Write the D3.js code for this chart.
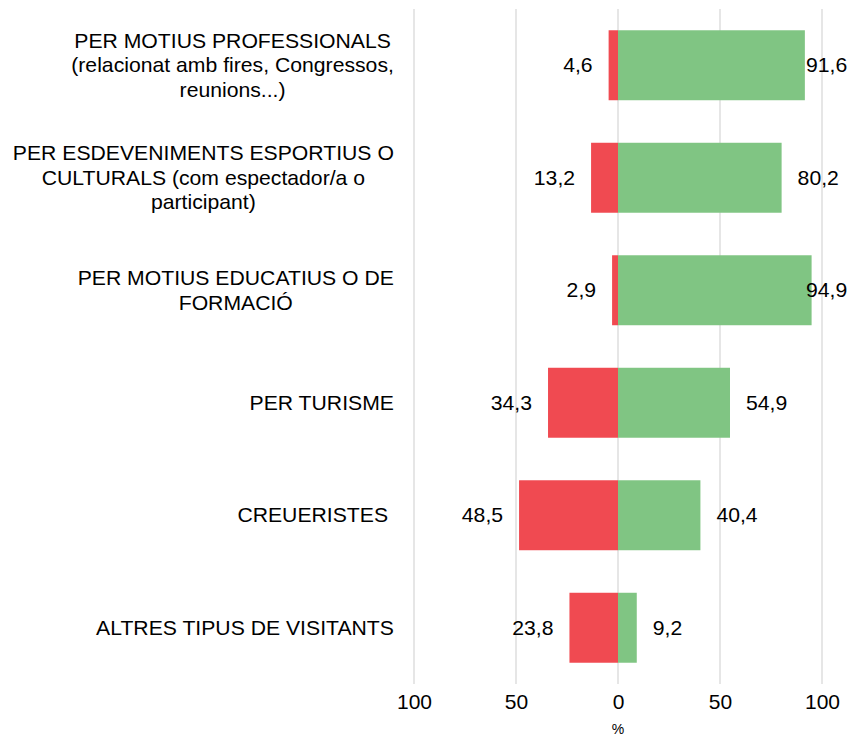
<!DOCTYPE html>
<html>
<head>
<meta charset="utf-8">
<script src="https://cdn.jsdelivr.net/npm/d3@7"></script>
<style>
  body { margin: 0; background: #fff; }
  svg text { font-family: "Liberation Sans", Arial, sans-serif; fill: #000; white-space: pre; }
</style>
</head>
<body>
<svg id="chart" width="850" height="736"></svg>
<script>
// categories, one array of lines per label
var categories = [
    ["PER MOTIUS PROFESSIONALS", "(relacionat amb fires, Congressos,", "reunions...)"],
    ["PER ESDEVENIMENTS ESPORTIUS O", "CULTURALS (com espectador/a o", "participant)"],
    ["PER MOTIUS EDUCATIUS O DE", "FORMACIÓ"],
    ["PER TURISME"],
    ["CREUERISTES "],
    ["ALTRES TIPUS DE VISITANTS"]
];
var negativeValues = [4.6, 13.2, 2.9, 34.3, 48.5, 23.8];
var positiveValues = [91.6, 80.2, 94.9, 54.9, 40.4, 9.2];
var tickValues = [-100, -50, 0, 50, 100];
var tickLabels = ["100", "50", "0", "50", "100"];

var svg = d3.select("#chart");
var fmt = function(v) { return d3.format(".1f")(v).replace(".", ","); };
var stretch = 1.06; // text in the original is a bit wider than it is tall

var x = d3.scaleLinear().domain([-100, 100]).range([414, 822]);
var y = d3.scaleBand().domain(d3.range(categories.length)).range([9, 684]).paddingInner(0.378).paddingOuter(0.189);

// gridlines
svg.append("g").selectAll("line")
    .data(tickValues)
    .enter().append("line")
    .attr("x1", function(d) { return x(d); })
    .attr("x2", function(d) { return x(d); })
    .attr("y1", 9).attr("y2", 684)
    .attr("stroke", "#d9d9d9").attr("stroke-width", 1.3);

// x axis labels
var axis = d3.axisBottom(x).tickValues(tickValues).tickSize(0).tickPadding(0)
    .tickFormat(function(d, i) { return tickLabels[i]; });
var ax = svg.append("g").attr("transform", "translate(0,702)").call(axis);
ax.select(".domain").remove();
ax.selectAll("text").attr("font-size", "21px").attr("dy", "0.32em")
    .style("font-family", "'Liberation Sans', Arial, sans-serif");
svg.append("text").attr("x", x(0)).attr("y", 729).attr("dy", "0.35em")
    .attr("text-anchor", "middle").attr("font-size", "14px").text("%");

// bars
var rows = svg.append("g").selectAll("g")
    .data(categories.map(function(c, i) { return { i: i, neg: negativeValues[i], pos: positiveValues[i] }; }))
    .enter().append("g");

rows.append("rect")
    .attr("x", function(d) { return x(-d.neg); })
    .attr("y", function(d) { return y(d.i); })
    .attr("width", function(d) { return x(0) - x(-d.neg); })
    .attr("height", y.bandwidth())
    .attr("fill", "#F04A51");

rows.append("rect")
    .attr("x", x(0))
    .attr("y", function(d) { return y(d.i); })
    .attr("width", function(d) { return x(d.pos) - x(0); })
    .attr("height", y.bandwidth())
    .attr("fill", "#80C583");

// value labels
rows.append("text")
    .attr("transform", function(d) {
        return "translate(" + (x(-d.neg) - 16) + "," + (y(d.i) + y.bandwidth() / 2) + ") scale(" + stretch + ",1)";
    })
    .attr("dy", "0.35em").attr("text-anchor", "end").attr("font-size", "20px")
    .text(function(d) { return fmt(d.neg); });

rows.append("text")
    .attr("transform", function(d) {
        return "translate(" + Math.min(x(d.pos) + 16, 806) + "," + (y(d.i) + y.bandwidth() / 2) + ") scale(" + stretch + ",1)";
    })
    .attr("dy", "0.35em").attr("text-anchor", "start").attr("font-size", "20px")
    .text(function(d) { return fmt(d.pos); });

// category labels: lines centred inside a block aligned right
var lineH = 24.5, rightEdge = 394;
var labels = svg.append("g").selectAll("g")
    .data(categories)
    .enter().append("g");

labels.each(function(lines, i) {
    var g = d3.select(this);
    var cy = y(i) + y.bandwidth() / 2;
    var texts = g.selectAll("text").data(lines).enter().append("text")
        .attr("dy", "0.35em").attr("font-size", "20px").attr("text-anchor", "middle")
        .text(function(d) { return d; });
    var maxW = 0;
    texts.each(function() { maxW = Math.max(maxW, this.getComputedTextLength() * stretch); });
    texts.attr("transform", function(d, j) {
        var ly = cy + (j - (lines.length - 1) / 2) * lineH;
        return "translate(" + (rightEdge - maxW / 2) + "," + ly + ") scale(" + stretch + ",1)";
    });
});
</script>
</body>
</html>
